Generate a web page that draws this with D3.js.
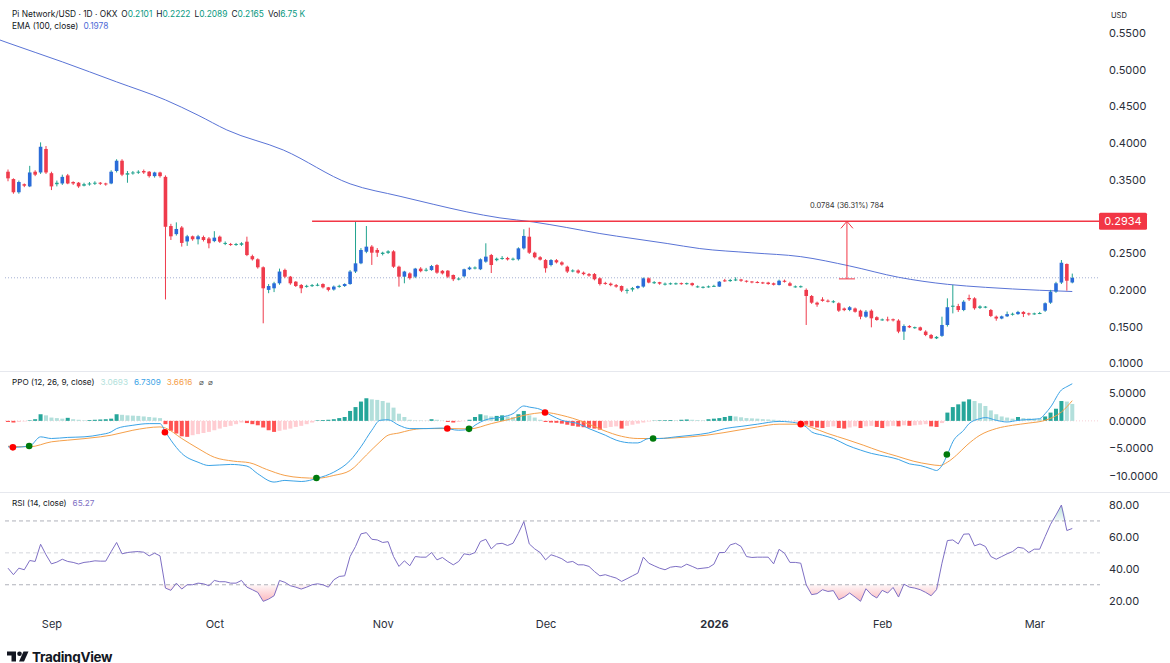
<!DOCTYPE html>
<html lang="en">
<head>
  <meta charset="UTF-8">
  <title>Pi Network/USD 1D</title>
  <script src="https://d3js.org/d3.v7.min.js"></script>
  <style>
    body { margin: 0; background: #fff; }
    text { font-family: Inter, "Liberation Sans", sans-serif; }
  </style>
</head>
<body>
  <div id="chart"></div>
  <script>
    const width = 1170, height = 663;

    // daily candles, Aug 24 2025 -> Mar 8 2026
    const startDate = new Date(Date.UTC(2025, 7, 24));
    const opens = [
      .361,.351,.333,.344,.341,.361,.360,.392,.359,.344, .345,.356,.347,.346,.342,.344,.345,.346,.345,.345,
      .362,.376,.357,.359,.360,.362,.361,.355,.360,.354, .287,.276,.285,.266,.273,.269,.272,.270,.2665,.2725,
      .263,.2625,.2615,.2615,.2657,.246,.2417,.2308,.200,.2022, .209,.2272,.218,.2112,.2067,.2045,.2055,.2065,.208,.2035,
      .2005,.2045,.2053,.208,.225,.2362,.252,.259,.2544,.249, .2505,.2525,.2316,.218,.2225,.218,.229,.2265,.227,.2338,
      .226,.2262,.2203,.2145,.2185,.2281,.2295,.2281,.2385,.2475, .2405,.2425,.2435,.2415,.2417,.2566,.2725,.2507,.2445,.2407,
      .2339,.2405,.2375,.2316,.2255,.2265,.2235,.2215,.2216,.2158, .2095,.2085,.2065,.2053,.199,.2005,.2025,.2045,.2158,.2095,
      .2105,.2075,.2085,.2085,.2092,.2085,.2092,.2040,.2035,.2042, .2048,.2045,.2130,.2120,.2135,.2142,.2125,.2115,.2108,.2102,
      .2100,.2090,.2067,.2125,.2090,.2040,.2045,.2000,.1917,.1826, .1870,.1853,.1838,.1818,.1747,.1727,.1747,.1717,.1635,.1717,
      .1628,.1590,.1598,.1600,.1582,.1432,.1508,.1485,.1490,.1432, .1386,.1340,.1374,.1522,.1770,.1780,.1726,.1890,.1885,.1755,
      .1765,.1726,.1635,.1610,.1640,.1665,.1670,.1700,.1680,.1670, .1678,.1717,.1826,.1977,.2100,.2353,.2101
    ];
    const highs = [
      .364,.352,.349,.345,.369,.363,.401,.396,.361,.349, .357,.358,.348,.347,.346,.347,.348,.347,.346,.363,
      .378,.378,.362,.362,.363,.364,.362,.361,.361,.356, .290,.292,.287,.275,.274,.275,.274,.272,.280,.274,
      .266,.264,.264,.265,.2725,.248,.243,.232,.208,.211, .229,.229,.219,.212,.208,.207,.208,.209,.209,.204,
      .206,.207,.209,.227,.2934,.257,.287,.261,.257,.252, .254,.254,.233,.226,.224,.230,.231,.230,.234,.235,
      .227,.227,.221,.217,.229,.232,.232,.243,.2635,.249, .244,.246,.245,.244,.258,.2826,.2848,.252,.246,.242,
      .242,.242,.239,.233,.228,.228,.225,.223,.223,.217, .211,.210,.208,.206,.202,.204,.206,.217,.217,.212,
      .211,.210,.210,.210,.210,.210,.210,.206,.205,.206, .207,.212,.215,.215,.2172,.215,.213,.212,.212,.211,
      .211,.210,.214,.214,.211,.206,.206,.202,.193,.184, .190,.187,.186,.183,.176,.178,.176,.173,.1725,.1735,
      .164,.161,.1635,.161,.160,.153,.152,.150,.150,.145, .140,.137,.1635,.1885,.2067,.181,.186,.1935,.190,.179,
      .178,.174,.165,.165,.1705,.169,.1715,.171,.169,.169, .170,.183,.200,.211,.2407,.2360,.2222
    ];
    const lows = [
      .348,.331,.331,.340,.340,.355,.358,.358,.336,.341, .343,.344,.343,.339,.341,.342,.343,.343,.342,.344,
      .360,.355,.346,.357,.358,.358,.353,.353,.353,.187, .268,.274,.259,.260,.267,.262,.266,.2567,.265,.264,
      .261,.260,.260,.260,.246,.240,.229,.1545,.1955,.197, .207,.216,.207,.204,.1955,.203,.204,.205,.202,.198,
      .199,.203,.204,.207,.223,.235,.250,.234,.245,.247, .249,.230,.2045,.209,.214,.216,.224,.225,.226,.222,
      .221,.216,.212,.213,.217,.227,.228,.227,.237,.223, .239,.241,.240,.240,.240,.255,.249,.243,.240,.2235,
      .232,.236,.233,.223,.224,.222,.220,.218,.213,.206, .207,.205,.203,.197,.195,.1977,.201,.203,.209,.208,
      .207,.206,.207,.207,.207,.207,.205,.203,.202,.203, .204,.204,.211,.211,.212,.211,.210,.209,.209,.208,
      .207,.206,.206,.210,.205,.203,.203,.1522,.181,.177, .184,.183,.182,.170,.171,.171,.169,.160,.162,.149,
      .158,.158,.157,.157,.141,.1318,.148,.147,.144,.137, .133,.133,.136,.150,.168,.170,.171,.185,.173,.174,
      .175,.163,.158,.160,.163,.165,.166,.163,.165,.166, .167,.170,.181,.196,.208,.199,.2089
    ];
    const closes = [
      .352,.333,.347,.342,.360,.357,.395,.360,.341,.346, .354,.345,.345,.341,.344,.345,.346,.345,.344,.361,
      .376,.357,.359,.360,.361,.360,.355,.360,.355,.286, .273,.283,.264,.273,.269,.273,.268,.2635,.2712,.2657,
      .264,.2615,.2625,.2635,.2475,.2417,.2308,.2022,.2053,.209, .225,.218,.209,.2053,.2022,.2055,.2065,.207,.2035,.200,
      .2045,.2055,.208,.225,.2362,.2544,.2589,.2507,.2507,.2507, .2525,.2316,.218,.225,.216,.229,.2255,.2275,.2325,.2235,
      .2225,.218,.2145,.2155,.2281,.2305,.2305,.2417,.2453,.2339, .2425,.2435,.2415,.2425,.2566,.2735,.2507,.2445,.2412,.2295,
      .2407,.2375,.2345,.225,.2265,.2235,.2215,.2195,.2145,.208, .2085,.2065,.2045,.199,.200,.2025,.2053,.2158,.210,.2105,
      .2085,.2085,.2090,.2090,.2083,.2092,.2065,.2048,.2042,.2048, .2055,.2112,.2120,.2135,.2142,.2125,.2115,.2105,.2100,.2095,
      .2080,.2070,.2125,.2110,.2057,.2048,.2050,.1917,.1826,.1800, .1850,.1840,.1845,.1717,.1725,.1764,.1702,.1635,.1703,.1613,
      .1590,.1598,.1585,.1585,.1432,.1508,.1490,.1492,.1450,.1386, .1340,.1360,.1522,.1764,.1785,.1726,.1839,.1872,.1750,.1775,
      .1772,.1645,.1610,.1640,.1670,.1675,.1700,.1672,.1670,.1680, .1685,.1818,.1977,.2090,.2370,.2125,.2165
    ];

    // EMA(100): [day index, value]
    const emaPts = [
      [-1.5,.5405],[0,.5365],[10,.5107],[20,.4834],[29,.4588],[35,.438],[40.3,.4179],[50.7,.3906],[63,.3445],[72.2,.3275],
      [78.3,.3167],[84.5,.3063],[90.6,.2981],[96.7,.2926],[102.9,.2850],[109,.2768],[115.1,.2700],[121.4,.2632],
      [127.4,.2563],[137,.2505],[146,.2453],[155,.2326],[164,.2172],[173,.2076],[180,.2035],[190,.1995],[196,.1978]
    ];

    // PPO (12, 26, 9)
    const ppoPts = [
      [0,-4.7],[1,-4.8],[4,-4.55],[6,-2.9],[8,-3.2],[11,-3.0],[14,-2.9],[17,-2.5],[19,-2.0],[20,-1.4],[23,-0.8],
      [26,-0.5],[28,-0.5],[29,-2.0],[30,-3.5],[32,-5.9],[35,-7.5],[37,-8.1],[41,-7.9],[44,-8.2],[46,-9.6],[49,-11.1],
      [51,-10.8],[54,-11.0],[57,-10.4],[60,-9.3],[63,-7.2],[65,-4.7],[67,-1.7],[68.5,0.1],[70,0.2],[72,-0.8],[74,-1.4],
      [77,-1.4],[80,-1.3],[83,-1.7],[85,-1.5],[86,-0.8],[88,0.2],[91,0.7],[93,1.3],[95,2.7],[96,2.5],[98,2.1],[100,1.0],
      [102,0.1],[105,-0.5],[107,-1.4],[110,-2.6],[112,-3.5],[115,-4.0],[116,-4.0],[118,-3.2],[120,-3.2],[123,-2.9],
      [126,-2.6],[129,-2.2],[132,-1.4],[135,-1.0],[138,-0.6],[142,-0.1],[144,-0.2],[146,-0.6],[147,-1.1],[148,-2.0],
      [150,-2.6],[152,-3.2],[154.5,-4.4],[157,-5.3],[159,-5.9],[162,-6.5],[164,-7.0],[166,-7.8],[168,-8.1],[170,-8.7],
      [171,-9.0],[172,-8.1],[173,-6.1],[174,-3.8],[176,-1.7],[177,-0.5],[179,0.4],[180,0.6],[182,0.1],[184,-0.2],
      [186,0.1],[190,0.4],[191,1.3],[192,2.5],[194,5.6],[195,6.2],[196,6.7309]
    ];
    const signalPts = [
      [0,-4.6],[4,-4.7],[8,-3.8],[11,-3.5],[17,-2.9],[19,-2.6],[23,-1.7],[28,-1.1],[29,-1.3],[32,-3.2],[35,-5.0],
      [38,-6.6],[41.5,-7.3],[44.5,-7.6],[47.6,-8.8],[51,-9.9],[54,-10.3],[57,-10.4],[60,-9.9],[63,-9.0],[66,-6.2],
      [68.5,-3.8],[70,-2.6],[72,-2.2],[74,-1.7],[76.5,-1.4],[81,-1.4],[85,-1.45],[89,-0.5],[92,0.2],[95,1.0],[99,1.5],
      [102,1.0],[106,-0.2],[109.6,-1.7],[113,-2.8],[116,-3.2],[119,-3.2],[122.5,-3.1],[128.7,-2.6],[135,-1.6],
      [138,-1.1],[142,-0.6],[146,-0.6],[148,-1.2],[151,-2.3],[154.5,-3.4],[157.5,-4.4],[160.6,-5.5],[163.7,-6.4],
      [166.7,-7.3],[169.8,-7.9],[171.6,-8.1],[173,-7.5],[174.7,-6.2],[176.6,-4.4],[179,-2.6],[182,-1.4],[185,-0.8],
      [188,-0.4],[191,0.1],[194,1.6],[196,3.6616]
    ];
    const ppoHist = [
      -0.2,-0.3,-0.2,-0.1,0.1,0.3,1.2,1.0,0.6,0.5, 0.4,0.55,0.3,0.2,0.1,0.15,0.2,0.25,0.3,0.4,
      1.2,1.1,1.0,0.95,0.9,0.8,0.7,0.6,0.5,-0.6, -1.8,-2.3,-2.8,-2.9,-2.6,-2.4,-2.2,-2.0,-1.7,-1.4,
      -1.1,-0.9,-0.6,-0.3,-0.4,-0.6,-0.8,-1.2,-1.7,-2.0, -1.8,-1.6,-1.4,-1.1,-0.9,-0.6,-0.3,0.1,0.15,0.2,
      0.3,0.5,0.7,1.8,2.5,3.5,4.1,3.9,3.8,3.6, 3.3,2.4,1.3,0.7,0.2,0.1,0.08,0.05,0.3,0.2,
      0.05,-0.2,-0.3,-0.2,-0.05,0.2,0.7,1.2,1.0,0.8, 0.9,1.0,0.8,0.7,1.2,1.8,1.0,0.6,0.2,-0.2,
      -0.3,-0.35,-0.5,-0.7,-0.9,-1.05,-1.15,-1.25,-1.4,-1.6, -1.3,-1.1,-1.0,-1.4,-0.9,-0.7,-0.5,-0.3,-0.1,0.05,
      0.1,0.12,0.15,0.1,0.2,0.25,0.2,0.15,0.1,0.3, 0.4,0.5,0.7,0.9,0.8,0.65,0.5,0.45,0.4,0.3,
      0.25,0.2,0.1,0.05,0.02,-0.05,-0.2,-0.7,-1.0,-1.2, -1.3,-1.1,-1.0,-1.3,-1.4,-1.2,-1.0,-1.3,-1.0,-0.9,
      -1.1,-1.3,-1.0,-0.9,-1.0,-0.8,-0.9,-0.8,-0.7,-0.6, -1.0,-1.1,-0.4,1.5,2.5,3.0,3.5,3.9,3.6,3.2,
      2.7,1.9,1.2,0.8,0.6,0.4,0.7,0.5,0.45,0.4, 0.38,0.8,1.5,2.2,3.6,3.5,3.0693
    ];
    const crossDown = [[0.9,-4.8],[28.9,-2.06],[80.9,-1.39],[98.9,1.52],[146,-0.6]];
    const crossUp = [[3.9,-4.55],[56.8,-10.36],[84.9,-1.45],[118.8,-3.2],[172.9,-6.1]];

    // RSI (14)
    const rsi = [
      40.4,36.3,40.4,39.4,45.2,44.6,55.4,48.8,43.1,44.2, 46.0,44.6,44.0,43.0,44.0,44.4,45.0,44.8,44.8,50.8,
      56.5,49.4,50.2,50.6,50.8,50.4,48.1,49.8,48.1,27.9, 26.5,31.0,27.3,30.0,30.0,31.0,30.6,29.4,32.7,31.9,
      31.9,31.0,31.0,32.7,28.5,26.9,25.2,19.6,21.0,23.1, 32.7,31.5,29.4,28.5,27.3,28.5,30.0,30.6,30.0,28.5,
      33.1,35.2,35.6,47.7,54.0,61.9,62.7,58.5,58.1,56.5, 57.0,47.7,41.5,45.0,41.9,47.7,47.3,47.3,50.2,45.6,
      47.1,44.6,42.5,44.6,49.4,48.8,50.2,57.1,58.5,52.5, 55.6,56.0,54.6,56.0,62.3,69.6,55.6,52.5,50.2,45.6,
      48.8,47.7,46.3,44.0,44.6,42.5,42.5,41.5,38.3,35.6, 36.3,35.2,34.2,32.1,33.8,35.6,37.3,47.3,43.5,41.9,
      40.4,39.4,41.0,41.5,41.0,42.9,41.5,40.0,40.4,40.8, 42.9,50.2,50.2,55.0,56.0,54.0,47.7,47.1,47.3,47.3,
      47.3,43.1,52.2,49.8,44.0,44.0,43.5,30.0,23.8,24.4, 26.9,25.8,26.3,20.6,22.3,24.8,22.3,19.6,27.5,23.8,
      21.7,26.5,24.8,28.3,22.3,30.4,28.5,27.9,26.9,25.2, 23.1,26.9,43.5,57.7,58.1,55.6,61.7,61.9,54.4,55.6,
      54.0,47.7,46.0,47.7,49.4,50.8,53.5,52.9,50.2,52.3, 52.3,60.2,67.9,73.75,80.0,64.0,65.27
    ];

    // 0.3000 sits under the 0.2934 badge in the original, so it is left out
    const priceTicks = [0.55, 0.50, 0.45, 0.40, 0.35, 0.25, 0.20, 0.15, 0.10];
    const ppoTicks = [5, 0, -5, -10];
    const rsiTicks = [80, 60, 40, 20];
    const rsiBands = [70, 50, 30];
    const monthLabels = ["Sep", "Oct", "Nov", "Dec", "2026", "Feb", "Mar"];
    const resistance = 0.2934;
    const measure = { idx: 154.5, from: 0.2150, to: 0.2934, label: "0.0784 (36.31%) 784" };

    const N = closes.length;
    const plotRight = 1100;
    const upBody = "#2a6bd8", upWick = "#22a38f", down = "#ef3b4c";

    const svg = d3.select("#chart").append("svg")
      .attr("width", width)
      .attr("height", height)
      .style("background", "#fff");

    const xi = d3.scaleLinear().domain([0, N - 1]).range([8, 8 + (N - 1) * 5.43]);
    const endDate = new Date(Date.UTC(2025, 7, 24 + N - 1));
    const xt = d3.scaleUtc().domain([startDate, endDate]).range(xi.range());
    const y = d3.scaleLinear().domain([0.10, 0.55]).range([363.3, 33]);
    const yP = d3.scaleLinear().domain([-10, 5]).range([476, 393.3]);
    const yR = d3.scaleLinear().domain([20, 80]).range([600.7, 505]);

    // pane separators
    svg.selectAll("line.sep").data([371.5, 492.5]).enter().append("line")
      .attr("x1", 0).attr("x2", width).attr("y1", d => d).attr("y2", d => d)
      .attr("stroke", "#e6e8ee").attr("stroke-width", 1);

    // ---- price pane ----
    // last price dotted line
    svg.append("line")
      .attr("x1", 5).attr("x2", plotRight)
      .attr("y1", y(closes[N - 1])).attr("y2", y(closes[N - 1]))
      .attr("stroke", "#8d9bc7").attr("stroke-width", 0.8).attr("stroke-dasharray", "1,2");

    svg.append("path")
      .datum(emaPts)
      .attr("fill", "none")
      .attr("stroke", "#5a74d6")
      .attr("stroke-width", 1)
      .attr("d", d3.line().x(d => xi(d[0])).y(d => y(d[1])).curve(d3.curveMonotoneX));

    const candles = d3.range(N).map(i => ({ i, o: opens[i], h: highs[i], l: lows[i], c: closes[i] }));
    const cg = svg.append("g");
    cg.selectAll("line").data(candles).enter().append("line")
      .attr("x1", d => xi(d.i)).attr("x2", d => xi(d.i))
      .attr("y1", d => y(d.h)).attr("y2", d => y(d.l))
      .attr("stroke", d => d.c >= d.o ? upWick : down)
      .attr("stroke-width", 1);
    cg.selectAll("rect").data(candles).enter().append("rect")
      .attr("x", d => xi(d.i) - 1.8)
      .attr("width", 3.6)
      .attr("y", d => y(Math.max(d.o, d.c)))
      .attr("height", d => Math.max(1, Math.abs(y(d.o) - y(d.c))))
      .attr("fill", d => d.c >= d.o ? (Math.abs(y(d.o) - y(d.c)) < 1.6 ? upWick : upBody) : down);

    // horizontal resistance line
    svg.append("line")
      .attr("x1", xi(56)).attr("x2", plotRight)
      .attr("y1", y(resistance)).attr("y2", y(resistance))
      .attr("stroke", "#f23645").attr("stroke-width", 1.5);

    // measurement arrow
    const mx = xi(measure.idx);
    const mg = svg.append("g").attr("stroke", "#f23645").attr("stroke-width", 1).attr("fill", "none");
    mg.append("line").attr("x1", mx).attr("x2", mx).attr("y1", y(measure.from)).attr("y2", y(measure.to));
    mg.append("line").attr("x1", mx - 8).attr("x2", mx + 8).attr("y1", y(measure.from)).attr("y2", y(measure.from));
    mg.append("path").attr("d", `M${mx - 6},${y(measure.to) + 7}L${mx},${y(measure.to)}L${mx + 6},${y(measure.to) + 7}`);
    svg.append("text")
      .attr("x", mx).attr("y", y(measure.to) - 13)
      .attr("text-anchor", "middle")
      .attr("font-size", 7.5).attr("fill", "#333")
      .text(measure.label);

    // price axis
    const pa = svg.append("g")
      .attr("transform", `translate(1109,0)`)
      .call(d3.axisRight(y).tickValues(priceTicks).tickSize(0).tickPadding(0).tickFormat(d3.format(".4f")));
    pa.select(".domain").remove();
    pa.selectAll("text").attr("font-size", 11).attr("fill", "#2a2e39").attr("font-family", "Inter, sans-serif");

    svg.append("text").attr("x", 1111).attr("y", 18).attr("font-size", 7.5).attr("fill", "#131722").text("USD");

    // resistance badge
    svg.append("rect")
      .attr("x", 1099).attr("y", y(resistance) - 8.5).attr("width", 48).attr("height", 17)
      .attr("rx", 1.5).attr("fill", "#f23645");
    svg.append("text")
      .attr("x", 1123).attr("y", y(resistance) + 4)
      .attr("text-anchor", "middle").attr("font-size", 11).attr("fill", "#fff")
      .text(d3.format(".4f")(resistance));

    // header legend
    const hdr = svg.append("text").attr("x", 12).attr("y", 17).attr("font-size", 8.4).attr("fill", "#131722");
    hdr.append("tspan").text("Pi Network/USD · 1D · OKX");
    [["O", opens[N - 1]], ["H", highs[N - 1]], ["L", lows[N - 1]], ["C", closes[N - 1]]].forEach(([k, v]) => {
      hdr.append("tspan").attr("dx", 4).text(k);
      hdr.append("tspan").attr("fill", "#089981").text(d3.format(".4f")(v));
    });
    hdr.append("tspan").attr("dx", 4).text("Vol");
    hdr.append("tspan").attr("fill", "#089981").text("6.75 K");

    const emaTxt = svg.append("text").attr("x", 12).attr("y", 29).attr("font-size", 8.4).attr("fill", "#131722");
    emaTxt.append("tspan").text("EMA (100, close)");
    emaTxt.append("tspan").attr("dx", 5).attr("fill", "#4e6bd6").text(d3.format(".4f")(emaPts[emaPts.length - 1][1]));

    // ---- PPO pane ----
    svg.append("line")
      .attr("x1", 5).attr("x2", plotRight).attr("y1", yP(0)).attr("y2", yP(0))
      .attr("stroke", "#f3c4ca").attr("stroke-width", 0.8).attr("stroke-dasharray", "1,2");

    const histColor = (v, i) => {
      const prev = i > 0 ? ppoHist[i - 1] : v;
      if (v >= 0) return v >= prev ? "#26a69a" : "#b2dfdb";
      return v <= prev ? "#ff5252" : "#ffcdd2";
    };
    svg.append("g").selectAll("rect").data(ppoHist).enter().append("rect")
      .attr("x", (d, i) => xi(i) - 2)
      .attr("width", 4)
      .attr("y", d => Math.min(yP(0), yP(d)))
      .attr("height", d => Math.abs(yP(d) - yP(0)))
      .attr("fill", histColor);

    const pline = d3.line().x(d => xi(d[0])).y(d => yP(d[1])).curve(d3.curveMonotoneX);
    svg.append("path").datum(signalPts).attr("fill", "none").attr("stroke", "#f5a04a").attr("stroke-width", 1).attr("d", pline);
    svg.append("path").datum(ppoPts).attr("fill", "none").attr("stroke", "#3ba3e6").attr("stroke-width", 1).attr("d", pline);

    svg.append("g").selectAll("circle").data(crossDown).enter().append("circle")
      .attr("cx", d => xi(d[0])).attr("cy", d => yP(d[1])).attr("r", 3.3).attr("fill", "#ff0000");
    svg.append("g").selectAll("circle").data(crossUp).enter().append("circle")
      .attr("cx", d => xi(d[0])).attr("cy", d => yP(d[1])).attr("r", 3.3).attr("fill", "#007a0c");

    const ppa = svg.append("g")
      .attr("transform", `translate(1109,0)`)
      .call(d3.axisRight(yP).tickValues(ppoTicks).tickSize(0).tickPadding(0).tickFormat(d3.format(".4f")));
    ppa.select(".domain").remove();
    ppa.selectAll("text").attr("font-size", 11).attr("fill", "#2a2e39").attr("font-family", "Inter, sans-serif");

    const ppoLeg = svg.append("text").attr("x", 12).attr("y", 385).attr("font-size", 8.2).attr("fill", "#131722");
    ppoLeg.append("tspan").text("PPO (12, 26, 9, close)");
    ppoLeg.append("tspan").attr("dx", 6).attr("fill", "#b2dfdb").text(d3.format(".4f")(ppoHist[N - 1]));
    ppoLeg.append("tspan").attr("dx", 6).attr("fill", "#3ba3e6").text(d3.format(".4f")(ppoPts[ppoPts.length - 1][1]));
    ppoLeg.append("tspan").attr("dx", 6).attr("fill", "#f5a04a").text(d3.format(".4f")(signalPts[signalPts.length - 1][1]));
    ppoLeg.append("tspan").attr("dx", 7).attr("fill", "#555").text("⌀");
    ppoLeg.append("tspan").attr("dx", 4).attr("fill", "#555").text("⌀");

    // ---- RSI pane ----
    const defs = svg.append("defs");
    const gLow = defs.append("linearGradient").attr("id", "rsiLow")
      .attr("gradientUnits", "userSpaceOnUse").attr("x1", 0).attr("x2", 0).attr("y1", yR(30)).attr("y2", yR(18));
    gLow.append("stop").attr("offset", 0).attr("stop-color", "#f23645").attr("stop-opacity", 0.04);
    gLow.append("stop").attr("offset", 1).attr("stop-color", "#f23645").attr("stop-opacity", 0.4);
    const gHigh = defs.append("linearGradient").attr("id", "rsiHigh")
      .attr("gradientUnits", "userSpaceOnUse").attr("x1", 0).attr("x2", 0).attr("y1", yR(70)).attr("y2", yR(82));
    gHigh.append("stop").attr("offset", 0).attr("stop-color", "#089981").attr("stop-opacity", 0.04);
    gHigh.append("stop").attr("offset", 1).attr("stop-color", "#089981").attr("stop-opacity", 0.35);

    svg.append("path").datum(rsi).attr("fill", "url(#rsiLow)")
      .attr("d", d3.area().x((d, i) => xi(i)).y0(yR(30)).y1(d => yR(Math.min(d, 30))));
    svg.append("path").datum(rsi).attr("fill", "url(#rsiHigh)")
      .attr("d", d3.area().x((d, i) => xi(i)).y0(yR(70)).y1(d => yR(Math.max(d, 70))));

    svg.selectAll("line.band").data(rsiBands).enter().append("line")
      .attr("x1", 5).attr("x2", plotRight)
      .attr("y1", d => yR(d)).attr("y2", d => yR(d))
      .attr("stroke", d => d === 50 ? "#c9ccd4" : "#9a9ea8")
      .attr("stroke-width", 0.8).attr("stroke-dasharray", "4,3");

    svg.append("path").datum(rsi)
      .attr("fill", "none").attr("stroke", "#7e6fc4").attr("stroke-width", 1)
      .attr("d", d3.line().x((d, i) => xi(i)).y(d => yR(d)));

    const ra = svg.append("g")
      .attr("transform", `translate(1109,0)`)
      .call(d3.axisRight(yR).tickValues(rsiTicks).tickSize(0).tickPadding(0).tickFormat(d3.format(".2f")));
    ra.select(".domain").remove();
    ra.selectAll("text").attr("font-size", 11).attr("fill", "#2a2e39").attr("font-family", "Inter, sans-serif");

    const rsiLeg = svg.append("text").attr("x", 12).attr("y", 506).attr("font-size", 8.2).attr("fill", "#131722");
    rsiLeg.append("tspan").text("RSI (14, close)");
    rsiLeg.append("tspan").attr("dx", 6).attr("fill", "#7e6fc4").text(d3.format(".2f")(rsi[N - 1]));

    // ---- time axis ----
    const months = d3.utcMonth.range(d3.utcMonth.ceil(startDate), endDate);
    const ta = svg.append("g")
      .attr("transform", `translate(0,620)`)
      .call(d3.axisBottom(xt).tickValues(months).tickSize(0).tickPadding(0).tickFormat((d, i) => monthLabels[i]));
    ta.select(".domain").remove();
    ta.selectAll("text")
      .attr("font-size", 11).attr("fill", "#2a2e39").attr("font-family", "Inter, sans-serif")
      .attr("font-weight", (d, i) => monthLabels[i] === "2026" ? 700 : 400);

    // ---- TradingView mark ----
    const logo = svg.append("g").attr("fill", "#131722");
    logo.append("path").attr("d", "M7,651.5h9v10h-4.5v-6H7z");
    logo.append("circle").attr("cx", 19.5).attr("cy", 653.8).attr("r", 2.3);
    logo.append("path").attr("d", "M23.5,651.5h5l-4.5,10h-5z");
    svg.append("text").attr("x", 32).attr("y", 661.5)
      .attr("font-size", 13.5).attr("font-weight", 700).attr("fill", "#131722")
      .attr("letter-spacing", -0.3)
      .text("TradingView");
  </script>
</body>
</html>
